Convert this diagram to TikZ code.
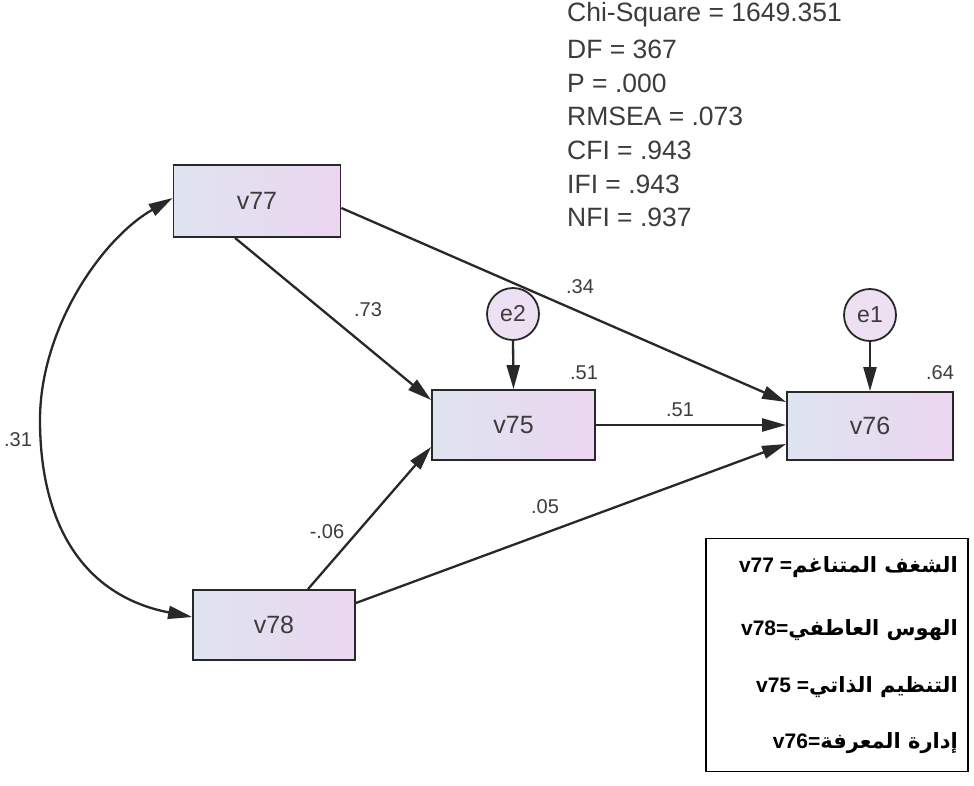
\documentclass[tikz,border=0pt]{standalone}
\usepackage{fontspec}
\setmainfont{Liberation Sans}
\newfontfamily\arabicfont[Script=Arabic]{DejaVu Sans}
\TeXXeTstate=1
\usetikzlibrary{arrows.meta,calc}
\definecolor{boxL}{RGB}{222,228,240}
\definecolor{boxR}{RGB}{236,214,240}
\definecolor{errfill}{RGB}{236,224,242}
\definecolor{ink}{RGB}{40,40,40}
\definecolor{txt}{RGB}{60,60,60}
\tikzset{
  varbox/.style={draw=ink, line width=1.8pt, left color=boxL, right color=boxR,
    minimum width=166pt, minimum height=70pt, inner sep=0pt, text=txt,
    font=\fontsize{25}{28}\selectfont},
  errc/.style={circle, draw=ink, line width=1.8pt, fill=errfill, minimum size=52pt,
    inner sep=0pt, text=txt, font=\fontsize{23}{26}\selectfont},
  path/.style={draw=ink, line width=2.3pt, -{Triangle[length=24pt,width=13pt]}},
  lbl/.style={text=txt, inner sep=0pt, font=\fontsize{20}{23}\selectfont},
  stat/.style={text=txt, inner sep=0pt, anchor=west, font=\fontsize{26.5}{30}\selectfont},
  leg/.style={inner sep=0pt, anchor=east, font=\fontsize{21}{24}\selectfont\bfseries}
}
\begin{document}
\begin{tikzpicture}[x=1pt,y=-1pt]
\useasboundingbox (0,0) rectangle (974,785);
\fill[white] (0,0) rectangle (974,785);

% variables
\node[varbox, minimum width=167pt, minimum height=72pt] (v77) at (257,201) {v77};
\node[varbox, minimum width=162pt] (v78) at (274,625) {v78};
\node[varbox, minimum width=163pt] (v75) at (513.5,425) {v75};
\node[varbox, minimum height=68pt] (v76) at (870,426) {v76};
\node[errc] (e2) at (513,314) {e2};
\node[errc] (e1) at (870,315) {e1};

% paths
\draw[path] ([xshift=-22pt]v77.south) -- ([yshift=25pt]v75.west);
\draw[path] ([xshift=34pt]v78.north) -- ([yshift=-22pt]v75.west);
\draw[path] ([yshift=-7pt]v77.east) -- ([yshift=24pt]v76.west);
\draw[path] ([yshift=22pt]v78.east) -- ([yshift=-18pt]v76.west);
\draw[path] (v75.east) -- (v75.east -| v76.west);
\draw[path] (e2.south) -- (v75.north);
\draw[path] (e1.south) -- (v76.north);
\draw[draw=ink, line width=2.3pt, {Triangle[length=24pt,width=13pt]}-{Triangle[length=24pt,width=13pt]}]
  ([yshift=3pt]v77.west) .. controls (100,240) and (40,330) .. (40,420)
  .. controls (40,520) and (80,595) .. ([yshift=8pt]v78.west);

% labels
\node[lbl] (l73) at (368,310) {.73};
\node[lbl] (l34) at (580,287) {.34};
\node[lbl] (l51a) at (584,373) {.51};
\node[lbl] (l51b) at (680,410) {.51};
\node[lbl] (l64) at (940,373) {.64};
\node[lbl] (l31) at (18,440) {.31};
\node[lbl] (l06) at (327,532) {-.06};
\node[lbl] (l05) at (545,507) {.05};

% fit statistics
\node[stat] (s1) at (567,15) {Chi-Square = 1649.351};
\node[stat] (s2) at (567,49) {DF = 367};
\node[stat] (s3) at (567,83) {P = .000};
\node[stat] (s4) at (567,116) {RMSEA = .073};
\node[stat] (s5) at (567,150) {CFI = .943};
\node[stat] (s6) at (567,184) {IFI = .943};
\node[stat] (s7) at (567,217) {NFI = .937};

% legend
\node[draw=black, line width=1.3pt, minimum width=262pt, minimum height=233pt, inner sep=0pt] (legend) at (837,655) {};
\node[leg] (g1) at (958,567) {v77 =\arabicfont\beginR الشغف المتناغم\endR};
\node[leg] (g2) at (958,630) {v78=\arabicfont\beginR الهوس العاطفي\endR};
\node[leg] (g3) at (958,687) {v75 =\arabicfont\beginR التنظيم الذاتي\endR};
\node[leg] (g4) at (958,743) {v76=\arabicfont\beginR إدارة المعرفة\endR};
\end{tikzpicture}
\end{document}
